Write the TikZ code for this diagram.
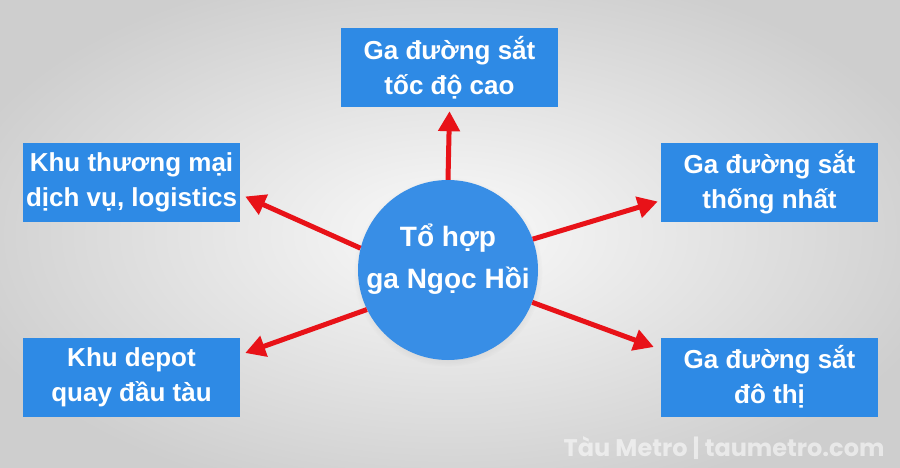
\documentclass[tikz,border=0pt]{standalone}
\usepackage{fontspec}
\setmainfont{Liberation Sans}
\newfontfamily\creditfont{Poppins}
\usetikzlibrary{arrows.meta,shadows}
\definecolor{boxblue}{RGB}{46,138,229}
\definecolor{hubblue}{RGB}{56,142,230}
\definecolor{arrowred}{RGB}{232,18,24}
\definecolor{bginner}{RGB}{250,250,250}
\definecolor{bgouter}{RGB}{206,206,206}
\newcommand{\boxfont}{\bfseries\fontsize{26}{35}\selectfont}
\newcommand{\hubfont}{\bfseries\fontsize{28}{42}\selectfont}

\begin{document}
\begin{tikzpicture}[x=1pt,y=-1pt,
  areabox/.style={fill=boxblue,text=white,minimum width=217pt,minimum height=79pt,
    inner sep=0pt,align=center,font=\boxfont},
  hubnode/.style={circle,fill=hubblue,minimum size=180pt,inner sep=0pt,
    circular drop shadow={shadow xshift=0pt,shadow yshift=-2pt,shadow scale=1.05,opacity=0.22}},
  hubtext/.style={text=white,align=center,font=\hubfont,inner sep=0pt},
  redarrow/.style={draw=arrowred,line width=5pt,-{Triangle[length=20pt,width=21pt]}}]
\useasboundingbox (0,0) rectangle (900,468);
\fill[inner color=bginner,outer color=bgouter] (-60,-40) rectangle (960,508);

\node[hubnode] (hub) at (448,270) {};
\node[hubtext] (hublabel) at ([yshift=11pt]hub.center) {Tổ hợp\\ga Ngọc Hồi};

\node[areabox] (hsr) at (449.5,67.5) {Ga đường sắt\\tốc độ cao};
\node[areabox] (trade) at (131.5,182.5) {Khu thương mại\\dịch vụ, logistics};
\node[areabox] (depot) at (131.5,377) {Khu depot\\quay đầu tàu};
\node[areabox] (national) at (769.5,182.5) {Ga đường sắt\\thống nhất};
\node[areabox] (urban) at (769.5,377) {Ga đường sắt\\đô thị};

\node[text=white,opacity=0.55,font=\creditfont\bfseries\fontsize{24}{24}\selectfont,anchor=east]
  (credit) at (888,448) {Tàu Metro | taumetro.com};

\draw[redarrow] (hub.north) -- ([yshift=-4pt]hsr.south);
\draw[redarrow] (hub.166) -- ([xshift=5pt,yshift=-14pt]trade.east);
\draw[redarrow] (hub.206) -- ([xshift=5pt,yshift=24pt]depot.east);
\draw[redarrow] (hub.20) -- ([xshift=-3pt,yshift=-19pt]national.west);
\draw[redarrow] (hub.339) -- ([xshift=-7pt,yshift=30pt]urban.west);
\end{tikzpicture}
\end{document}
